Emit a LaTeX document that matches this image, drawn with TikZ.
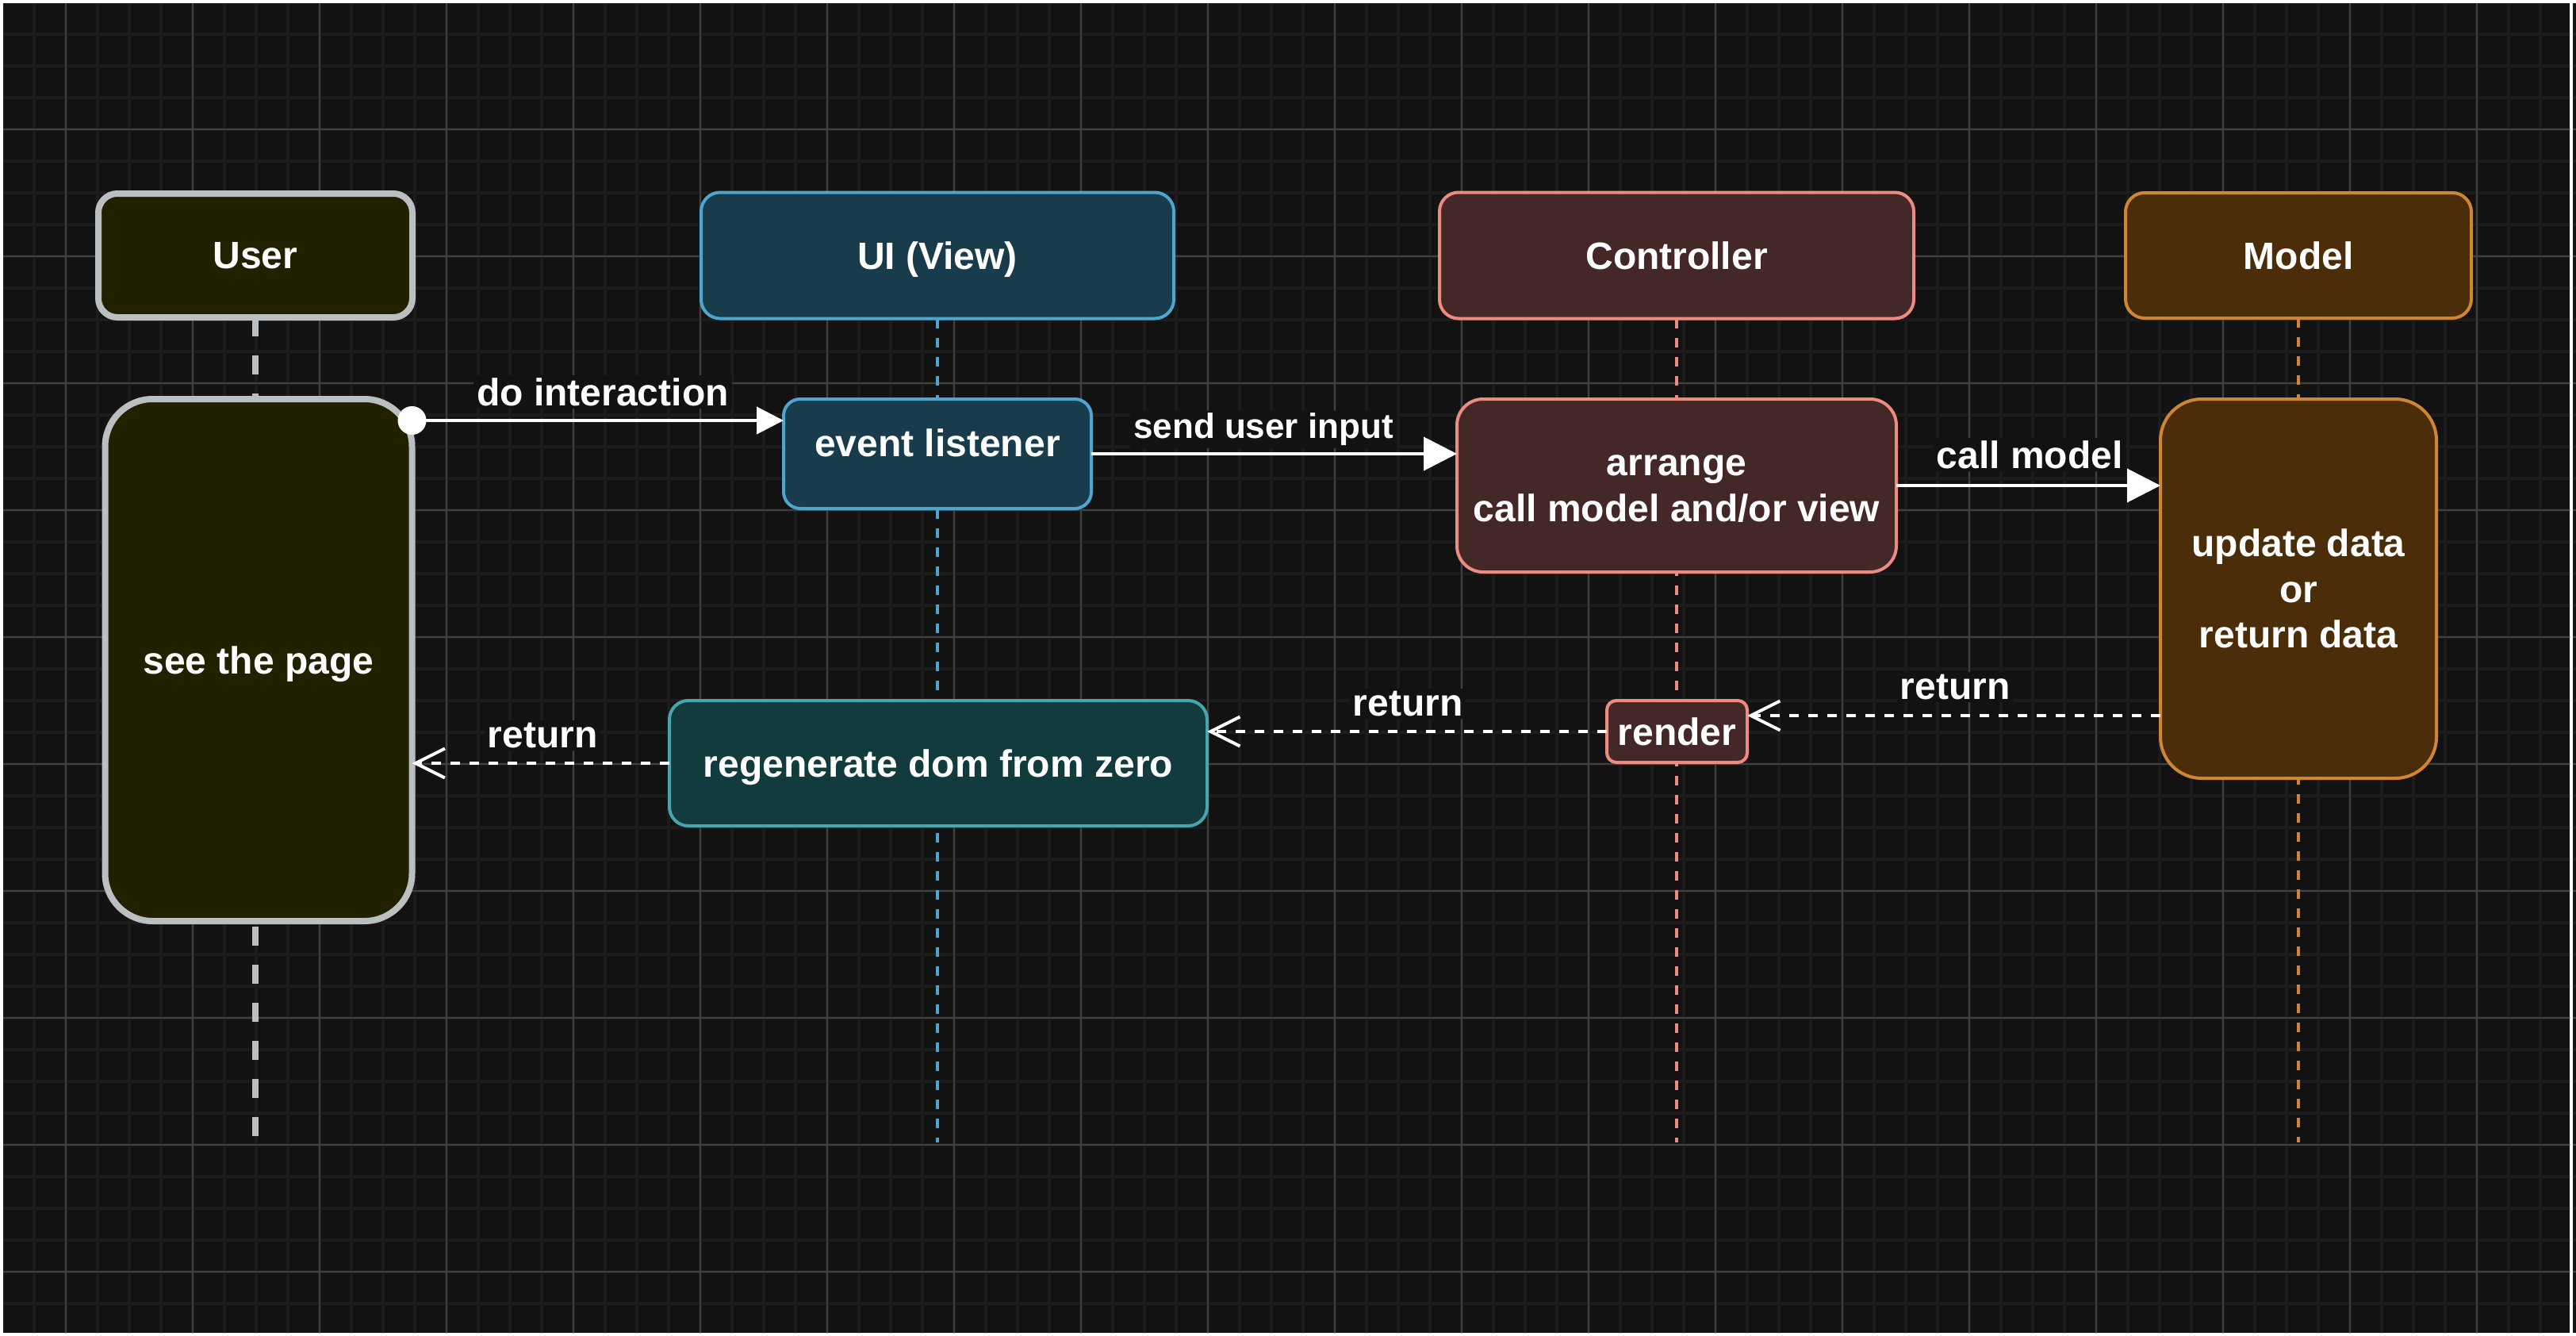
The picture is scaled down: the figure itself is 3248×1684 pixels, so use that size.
\documentclass[tikz,border=0pt]{standalone}
\usepackage{fontspec}
\setmainfont{Liberation Sans}
\usetikzlibrary{arrows.meta}
\pgfdeclarelayer{gridlayer}
\pgfdeclarelayer{lifelayer}
\pgfsetlayers{gridlayer,lifelayer,main}
\definecolor{bgc}{HTML}{121212}
\definecolor{gmin}{HTML}{1C1C1C}
\definecolor{gmaj}{HTML}{404040}
\definecolor{userfill}{HTML}{212100}
\definecolor{userline}{HTML}{BCBFC2}
\definecolor{uifill}{HTML}{183C4B}
\definecolor{uiline}{HTML}{4FA5CF}
\definecolor{ctfill}{HTML}{442727}
\definecolor{ctline}{HTML}{EE8B80}
\definecolor{mofill}{HTML}{4B2E09}
\definecolor{moline}{HTML}{CF8634}
\definecolor{rgfill}{HTML}{123B3E}
\definecolor{rgline}{HTML}{46A6AC}
\tikzset{
  box/.style={draw, rounded corners=#1, outer sep=0pt, inner sep=0pt, text=white,
    font=\fontsize{48}{57.6}\selectfont\bfseries, align=center},
  box/.default=24pt,
  oneline/.style={text depth=0pt},
  userbox/.style={box=#1, fill=userfill, draw=userline, line width=8pt},
  userbox/.default=24pt,
  uibox/.style={box=#1, fill=uifill, draw=uiline, line width=4pt},
  uibox/.default=24pt,
  ctbox/.style={box=#1, fill=ctfill, draw=ctline, line width=4pt},
  ctbox/.default=24pt,
  mobox/.style={box=#1, fill=mofill, draw=moline, line width=4pt},
  mobox/.default=24pt,
  rgbox/.style={box=#1, fill=rgfill, draw=rgline, line width=4pt},
  rgbox/.default=24pt,
  lifeuser/.style={draw=userline, line width=8pt, dash pattern=on 24pt off 24pt},
  lifeline/.style={line width=4pt, dash pattern=on 12pt off 12pt},
  smallarrow/.style={draw=white, line width=4pt, -{Triangle[length=34pt,width=34pt]}},
  bigarrow/.style={draw=white, line width=4pt, -{Triangle[length=42pt,width=42pt]}},
  retarrow/.style={draw=white, line width=4pt, dash pattern=on 12pt off 12pt,
    -{Straight Barb[length=37pt,width=37pt]}},
  lbl/.style={fill=bgc, text=white, inner xsep=4pt, inner ysep=3pt,
    font=\fontsize{48}{57.6}\selectfont\bfseries},
  lblsmall/.style={lbl, font=\fontsize{44}{52.8}\selectfont\bfseries},
}
\begin{document}
\begin{tikzpicture}[x=1pt,y=-1pt]
\useasboundingbox (0,0) rectangle (3248,1684);

% background and grid
\begin{pgfonlayer}{gridlayer}
\fill[white] (0,0) rectangle (3248,1684);
\fill[bgc] (4,4) rectangle (3240,1680);
\fill[bgc] (3244,4) rectangle (3248,1680);
\begin{scope}
\clip (4,4) rectangle (3240,1680) (3244,4) rectangle (3248,1680);
\foreach \x in {3,43,...,3243} \draw[gmin, line width=4pt] (\x,0) -- (\x,1684);
\foreach \y in {3,43,...,1683} \draw[gmin, line width=4pt] (0,\y) -- (3248,\y);
\foreach \x in {83,243,...,3203} \draw[gmaj, line width=2pt] (\x,0) -- (\x,1684);
\foreach \y in {3,163,...,1603} \draw[gmaj, line width=2pt] (0,\y) -- (3248,\y);
\end{scope}
\end{pgfonlayer}

% headers
\node[userbox, oneline, minimum width=396pt, minimum height=156pt] (userH) at (322,322) {User};
\node[uibox, oneline, minimum width=596pt, minimum height=159pt] (uiH) at (1182,322) {UI (View)};
\node[ctbox, oneline, minimum width=598pt, minimum height=159pt] (ctH) at (2114,322) {Controller};
\node[mobox, oneline, minimum width=436pt, minimum height=158pt] (moH) at (2898,322) {Model};

% activations
\node[userbox=60pt, oneline, minimum width=387pt, minimum height=658pt] (seepage) at (326,832) {see the page};
\node[uibox=21pt, oneline, minimum width=388pt, minimum height=138pt] (evl) at (1182,572) {\raisebox{14pt}[\height][\depth]{event listener}};
\node[ctbox=33pt, minimum width=554pt, minimum height=218pt, align=none] (arrange) at (2114,612)
  {\raisebox{-5pt}[\height][\depth]{\begin{tabular}{@{}c@{}}arrange\\call model and/or view\end{tabular}}};
\node[mobox=52pt, minimum width=348pt, minimum height=478pt] (update) at (2898,742) {update data\\or\\return data};
\node[ctbox=12pt, oneline, minimum width=177pt, minimum height=78pt] (render) at (2114.5,922) {render};
\node[rgbox=24pt, oneline, minimum width=678pt, minimum height=158pt] (regen) at (1183,962) {regenerate dom from zero};

% lifelines
\coordinate (lifeend) at (0,1440);
\begin{pgfonlayer}{lifelayer}
\draw[lifeuser] (userH.south) -- (userH.south |- lifeend);
\draw[lifeline, draw=uiline] (uiH.south) -- (uiH.south |- lifeend);
\draw[lifeline, draw=ctline] (ctH.south) -- (ctH.south |- lifeend);
\draw[lifeline, draw=moline] (moH.south) -- (moH.south |- lifeend);
\end{pgfonlayer}

% messages
\coordinate (ydo) at (0,530);
\draw[smallarrow] (seepage.east |- ydo) -- (evl.west |- ydo);
\fill[white] (seepage.east |- ydo) circle[radius=18pt];
\node[lbl] (ldo) at (760,494) {do interaction};

\draw[bigarrow] (evl.east) -- (arrange.west |- evl.east);
\node[lblsmall] (lsend) at (1593,541) {send user input};

\draw[bigarrow] (arrange.east) -- (update.west |- arrange.east);
\node[lbl] (lcall) at (2559,573) {call model};

\coordinate (yret) at (0,902);
\draw[retarrow] (update.west |- yret) -- (render.east |- yret);
\node[lbl] (lret1) at (2465,866) {return};

\draw[retarrow] (render.west) -- (regen.east |- render.west);
\node[lbl] (lret2) at (1775,887) {return};

\draw[retarrow] (regen.west) -- (seepage.east |- regen.west);
\node[lbl] (lret3) at (684,927) {return};
\end{tikzpicture}
\end{document}
